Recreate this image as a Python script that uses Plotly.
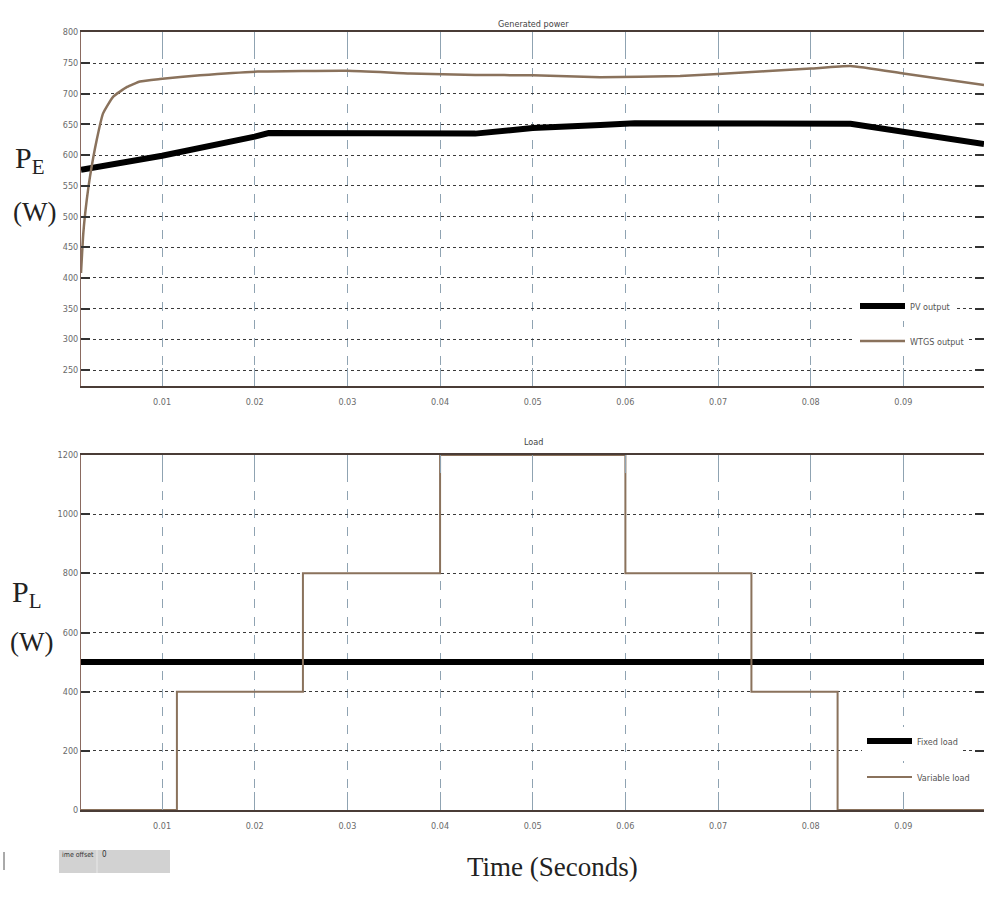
import plotly.graph_objects as go

# ---------------- data ----------------
wtgs_t = [0.00125, 0.0015, 0.00187, 0.00222, 0.00295, 0.00363, 0.00471, 0.00622,
          0.00762, 0.00978, 0.0141, 0.0203, 0.030, 0.0368, 0.0438, 0.050, 0.0573,
          0.0659, 0.070, 0.080, 0.0843, 0.090, 0.0987]
wtgs_p = [408, 473, 527, 565, 625, 668, 695, 711, 720, 724, 730, 736, 737.5, 733,
          730.5, 730, 727, 729, 732, 741, 745, 733, 714]

pv_t = [0.00125, 0.010, 0.020, 0.0215, 0.0438, 0.050, 0.0573, 0.0610, 0.0843, 0.090, 0.0987]
pv_p = [576, 599, 630, 636, 635, 644, 649, 652, 651, 638, 618]

var_t = [0.00125, 0.0116, 0.0252, 0.0400, 0.0600, 0.0736, 0.0829, 0.0987]
var_p = [0, 400, 800, 1200, 800, 400, 0, 0]

fix_t = [0.00125, 0.0987]
fix_p = [500, 500]

x_ticks = [0.01, 0.02, 0.03, 0.04, 0.05, 0.06, 0.07, 0.08, 0.09]
x_ticklabels = ["0.01", "0.02", "0.03", "0.04", "0.05", "0.06", "0.07", "0.08", "0.09"]
y1_ticks = [250, 300, 350, 400, 450, 500, 550, 600, 650, 700, 750, 800]
y2_ticks = [0, 200, 400, 600, 800, 1000, 1200]

# ---------------- style ----------------
W, H = 984, 904
TICKFONT = dict(family="Liberation Sans Narrow, DejaVu Sans Condensed, Arial Narrow, sans-serif",
                size=9, color="#6a6a6a")
SERIF = "Liberation Serif, Times New Roman, serif"
BROWN = "#8a725c"

def px_x(p):
    return p / W

def px_y(p):
    return 1 - p / H

fig = go.Figure()

fig.add_trace(go.Scatter(x=pv_t, y=pv_p, mode="lines", name="PV output",
                         line=dict(color="black", width=6), xaxis="x", yaxis="y",
                         legend="legend", showlegend=True))
fig.add_trace(go.Scatter(x=wtgs_t, y=wtgs_p, mode="lines", name="WTGS output",
                         line=dict(color=BROWN, width=2.5, shape="spline", smoothing=0.4),
                         xaxis="x", yaxis="y", legend="legend2", showlegend=True))
fig.add_trace(go.Scatter(x=fix_t, y=fix_p, mode="lines", name="Fixed load",
                         line=dict(color="black", width=6), xaxis="x2", yaxis="y2",
                         legend="legend3", showlegend=True))
fig.add_trace(go.Scatter(x=var_t, y=var_p, mode="lines", name="Variable load",
                         line=dict(color=BROWN, width=2, shape="hv"), xaxis="x2", yaxis="y2",
                         legend="legend4", showlegend=True))

xdom = [px_x(81), 1.0]
xaxis_common = dict(
    range=[0.00125, 0.0987], tickvals=x_ticks, ticktext=x_ticklabels,
    showgrid=True, gridcolor="#8fa3b2", griddash="dash", gridwidth=1,
    ticks="inside", ticklen=18, tickcolor="#8fa3b2", tickwidth=1,
    showline=True, linecolor="#4a3c36", linewidth=2, mirror="ticks",
    tickfont=TICKFONT, zeroline=False, domain=xdom, ticklabelstandoff=6,
    automargin=False,
)
yaxis_common = dict(
    showgrid=True, gridcolor="#3a3a3a", griddash="dot", gridwidth=1,
    ticks="inside", ticklen=9, tickcolor="#333333", tickwidth=2,
    showline=True, linecolor="#8a6a60", linewidth=1, mirror="ticks",
    tickfont=TICKFONT, zeroline=False, automargin=False,
)

fig.update_layout(
    width=W, height=H,
    margin=dict(l=0, r=0, t=0, b=0, pad=0),
    paper_bgcolor="white", plot_bgcolor="white",
    showlegend=True,
    xaxis=dict(**xaxis_common, anchor="y"),
    yaxis=dict(**yaxis_common, range=[224, 800], tickvals=y1_ticks,
               domain=[px_y(386), px_y(32.3)], anchor="x"),
    xaxis2=dict(**xaxis_common, anchor="y2"),
    yaxis2=dict(**yaxis_common, range=[0, 1200], tickvals=y2_ticks,
                domain=[px_y(810), px_y(455)], anchor="x2"),
)

leg_common = dict(bgcolor="white", borderwidth=0, font=dict(family=TICKFONT["family"], size=9, color="#555"),
                  xanchor="left", yanchor="middle", itemwidth=45, tracegroupgap=0, visible=True)
fig.update_layout(
    legend=dict(**leg_common, x=px_x(855), y=px_y(306)),
    legend2=dict(**leg_common, x=px_x(855), y=px_y(341)),
    legend3=dict(**leg_common, x=px_x(862), y=px_y(741)),
    legend4=dict(**leg_common, x=px_x(862), y=px_y(777)),
)

ann = []
ann.append(dict(text="Generated power", x=px_x(533), y=px_y(17), xref="paper", yref="paper",
                showarrow=False, font=dict(family=TICKFONT["family"], size=9, color="#444")))
ann.append(dict(text="Load", x=px_x(533), y=px_y(442), xref="paper", yref="paper",
                showarrow=False, font=dict(family=TICKFONT["family"], size=9, color="#444")))
ann.append(dict(text="P<sub>E</sub>", x=px_x(13), y=px_y(160), xref="paper", yref="paper",
                xanchor="left", yanchor="middle", showarrow=False,
                font=dict(family=SERIF, size=30, color="#222")))
ann.append(dict(text="(W)", x=px_x(11), y=px_y(212), xref="paper", yref="paper",
                xanchor="left", yanchor="middle", showarrow=False,
                font=dict(family=SERIF, size=27, color="#222")))
ann.append(dict(text="P<sub>L</sub>", x=px_x(10), y=px_y(594), xref="paper", yref="paper",
                xanchor="left", yanchor="middle", showarrow=False,
                font=dict(family=SERIF, size=30, color="#222")))
ann.append(dict(text="(W)", x=px_x(8), y=px_y(642), xref="paper", yref="paper",
                xanchor="left", yanchor="middle", showarrow=False,
                font=dict(family=SERIF, size=27, color="#222")))
ann.append(dict(text="Time (Seconds)", x=px_x(552), y=px_y(884), xref="paper", yref="paper",
                showarrow=False, font=dict(family=SERIF, size=27, color="#222")))
ann.append(dict(text="ime offset", x=px_x(60), y=px_y(861), xref="paper", yref="paper",
                xanchor="left", showarrow=False, font=dict(family=TICKFONT["family"], size=7, color="#333")))
ann.append(dict(text="0", x=px_x(100), y=px_y(861), xref="paper", yref="paper",
                xanchor="left", showarrow=False, font=dict(family=TICKFONT["family"], size=8, color="#333")))
fig.update_layout(annotations=ann)

fig.update_layout(shapes=[
    dict(type="rect", xref="paper", yref="paper", x0=px_x(59), x1=px_x(170),
         y0=px_y(873), y1=px_y(850), fillcolor="#d2d2d2", line=dict(width=0), layer="below"),
    dict(type="line", xref="paper", yref="paper", x0=px_x(97), x1=px_x(97),
         y0=px_y(873), y1=px_y(850), line=dict(color="#e8e8e8", width=1)),
    dict(type="line", xref="paper", yref="paper", x0=px_x(4), x1=px_x(4),
         y0=px_y(870), y1=px_y(852), line=dict(color="#555", width=1)),
])

fig.write_html("out.html", config={"displayModeBar": False},
               post_script="document.body.style.margin='0';document.body.style.overflow='hidden';")
